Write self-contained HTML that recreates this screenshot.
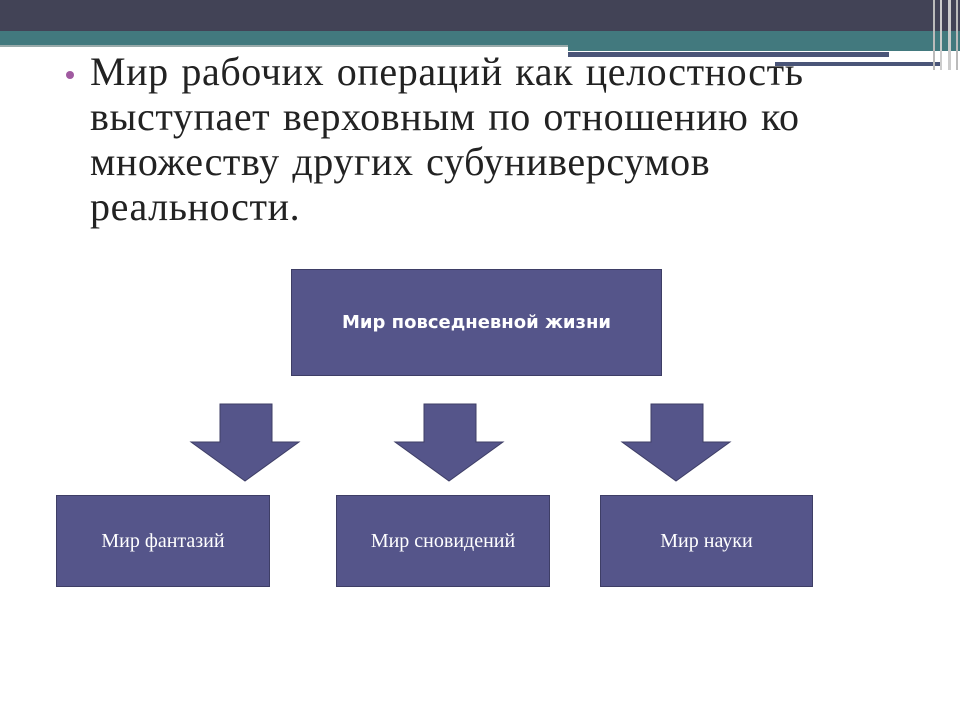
<!DOCTYPE html>
<html><head><meta charset="utf-8"><style>
body{margin:0;width:960px;height:720px;position:relative;background:#fff;overflow:hidden;font-family:"Liberation Serif",serif}
.a{position:absolute}
.box{position:absolute;background:#55558a;border:1px solid #3e3e66;color:#fff;display:flex;align-items:center;justify-content:center;font-size:20px;box-sizing:border-box}
</style></head><body>
<div class="a" style="left:0;top:0;width:960px;height:31px;background:#424356"></div>
<div class="a" style="left:0;top:31px;width:960px;height:14px;background:#42797e"></div>
<div class="a" style="left:0;top:45px;width:568px;height:2px;background:#9aa"></div>
<div class="a" style="left:568px;top:45px;width:392px;height:6px;background:#42797e"></div>
<div class="a" style="left:568px;top:52px;width:321px;height:5px;background:#4a5578"></div>
<div class="a" style="left:775px;top:62px;width:167px;height:4px;background:#4a5578"></div>
<div class="a" style="left:933px;top:0;width:2px;height:70px;background:#bbb"></div>
<div class="a" style="left:940px;top:0;width:2px;height:70px;background:#ccc"></div>
<div class="a" style="left:948px;top:0;width:3px;height:70px;background:#ccc"></div>
<div class="a" style="left:956px;top:0;width:2px;height:70px;background:#bbb"></div>
<div class="a" style="left:66px;top:71px;width:8px;height:8px;border-radius:50%;background:#a05aa0"></div>
<div class="a" style="left:90px;top:49px;width:760px;font-size:40px;letter-spacing:0.6px;word-spacing:2px;line-height:45px;color:#222">Мир рабочих операций как целостность выступает верховным по отношению ко множеству других субуниверсумов реальности.</div>
<div class="box" style="left:291px;top:269px;width:371px;height:107px;font-family:'DejaVu Sans',sans-serif;font-weight:bold;font-size:18px">Мир повседневной жизни</div>
<svg class="a" style="left:0;top:0" width="960" height="720">
<g fill="#55558a" stroke="#3e3e66">
<polygon points="220,404 272,404 272,442 299,442 245,481 191,442 220,442"/>
<polygon points="424,404 476,404 476,442 503,442 449,481 395,442 424,442"/>
<polygon points="651,404 703,404 703,442 730,442 676,481 622,442 651,442"/>
</g></svg>
<div class="box" style="left:56px;top:495px;width:214px;height:92px">Мир фантазий</div>
<div class="box" style="left:336px;top:495px;width:214px;height:92px">Мир сновидений</div>
<div class="box" style="left:600px;top:495px;width:213px;height:92px">Мир науки</div>
</body></html>
